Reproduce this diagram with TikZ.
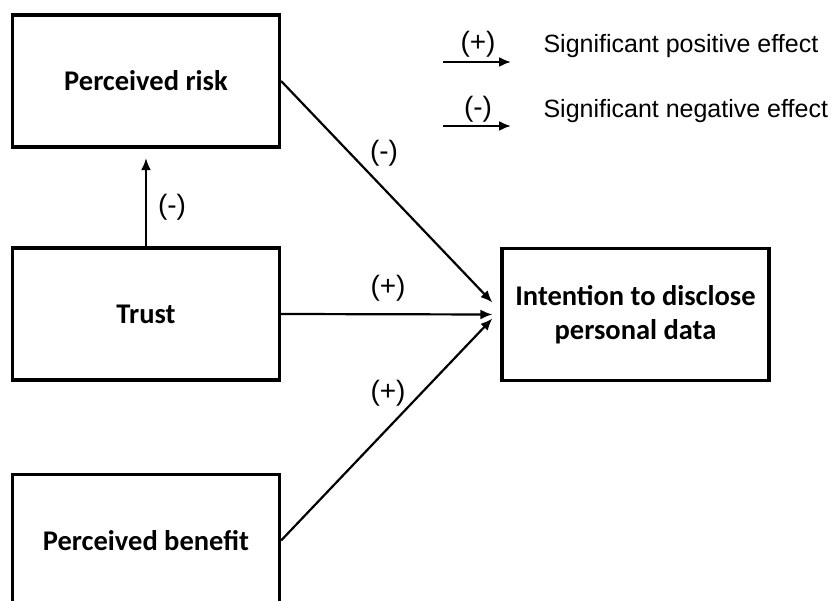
\documentclass[tikz,border=0pt]{standalone}
\usepackage{fontspec}
\setmainfont{Liberation Sans}
\newfontfamily\boxfont{Carlito}
\usetikzlibrary{arrows.meta}

\begin{document}
\begin{tikzpicture}[x=1pt,y=-1pt,
    box/.style={draw,line width=3.2pt,minimum width=267pt,minimum height=132pt,
        align=center,font=\boxfont\bfseries\fontsize{28.5}{34}\selectfont},
    effect/.style={line width=2.2pt,-{Latex[length=12pt,width=10pt]}},
    sign/.style={font=\fontsize{28}{33}\selectfont},
    note/.style={font=\fontsize{25}{30}\selectfont,anchor=base west}]
    \useasboundingbox (0,0) rectangle (831,601);

    \node[box] (risk) at (146,81) {Perceived risk};
    \node[box] (trust) at (146,314) {Trust};
    \node[box] (benefit) at (146,540.5) {Perceived benefit};
    \node[box] (intention) at (635.5,314.5) {Intention to disclose\\personal data};

    \draw[effect] (trust.north) -- ([yshift=-9.5pt]risk.south);
    \draw[effect] (risk.east) -- ([xshift=-8pt,yshift=12pt]intention.west);
    \draw[effect] (trust.east) -- ([xshift=-8pt]intention.west);
    \draw[effect] (benefit.east) -- ([xshift=-8pt,yshift=-4pt]intention.west);

    \node[sign] (trustneg) at (172,207) {(-)};
    \node[sign] (riskneg) at (384,153) {(-)};
    \node[sign] (trustpos) at (388,288) {(+)};
    \node[sign] (benefitpos) at (388,393) {(+)};

    % legend
    \coordinate (posstart) at (443,62);
    \coordinate (posend) at (511,62);
    \coordinate (negstart) at (443,126);
    \coordinate (negend) at (511,126);
    \draw[effect] (posstart) -- (posend);
    \draw[effect] (negstart) -- (negend);
    \node[sign,anchor=base] (poslbl) at (478,52) {(+)};
    \node[sign,anchor=base] (neglbl) at (478,117) {(-)};
    \node[note] (postext) at (540,53) {Significant positive effect};
    \node[note] (negtext) at (540,118) {Significant negative effect};
\end{tikzpicture}
\end{document}
